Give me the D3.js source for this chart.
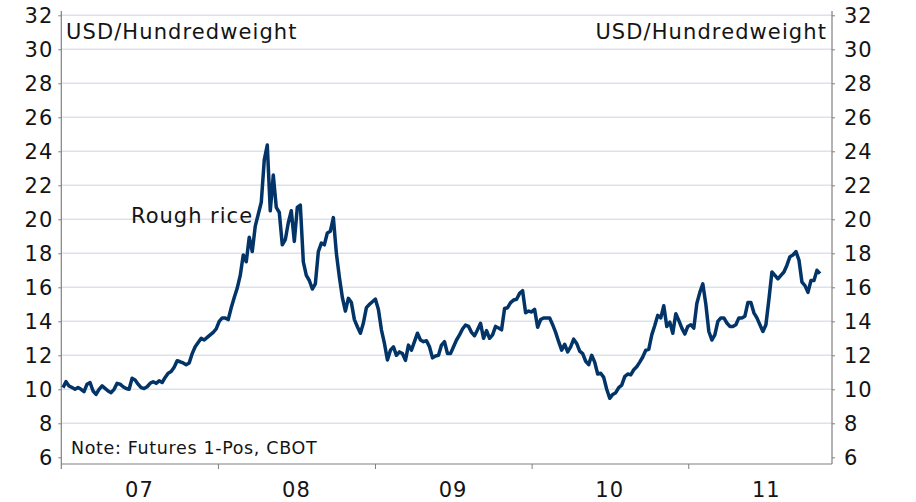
<!DOCTYPE html>
<html><head><meta charset="utf-8">
<script src="https://cdn.jsdelivr.net/npm/d3@7"></script>
<style>
body{margin:0;background:#fff}
svg text{font-family:"DejaVu Sans",Verdana,sans-serif;fill:#141414}
</style>
</head><body>
<svg id="chart" width="916" height="502"></svg>
<script>
// ---- data (weekly closes, Rough rice futures 1-Pos, CBOT) ----
const firstWeek = "2007-01-05";
const riceValues = [
10.1,10.45,10.2,10.1,10.0,10.1,10.0,9.86,10.3,10.4,
9.9,9.7,10.0,10.2,10.05,9.9,9.8,10.0,10.35,10.3,
10.15,10.05,10.0,10.65,10.55,10.3,10.1,10.05,10.15,10.35,
10.45,10.35,10.5,10.4,10.7,10.95,11.05,11.3,11.68,11.62,
11.55,11.45,11.55,12.1,12.5,12.75,13.0,12.9,13.05,13.2,
13.35,13.55,14.0,14.2,14.2,14.1,14.8,15.4,15.95,16.7,
17.9,17.5,18.95,18.1,19.6,20.3,21.0,23.5,24.37,20.5,
22.6,20.7,20.4,18.5,18.8,19.8,20.5,18.7,20.7,20.84,
17.5,16.7,16.4,15.9,16.2,18.1,18.6,18.5,19.2,19.3,
20.1,18.0,16.6,15.4,14.6,15.35,15.1,14.1,13.68,13.3,
13.9,14.8,15.0,15.15,15.3,14.7,13.5,12.7,11.72,12.3,
12.5,12.0,12.2,12.1,11.7,12.6,12.3,12.8,13.3,12.9,
12.8,12.86,12.5,11.85,11.96,12.0,12.6,12.8,12.1,12.1,
12.5,12.9,13.2,13.55,13.78,13.7,13.35,13.15,13.5,13.88,
13.0,13.45,13.0,13.2,13.7,13.6,13.5,14.75,14.8,15.1,
15.25,15.3,15.64,15.8,14.5,14.6,14.55,14.7,13.65,14.1,
14.2,14.2,14.2,13.8,13.35,12.8,12.3,12.65,12.2,12.5,
12.95,12.7,12.25,12.1,11.65,11.45,12.0,11.6,10.9,10.94,
10.7,10.0,9.47,9.7,9.8,10.1,10.25,10.75,10.9,10.85,
11.15,11.33,11.6,11.9,12.3,12.35,13.2,13.75,14.35,14.2,
14.92,13.7,13.95,13.3,14.45,14.05,13.6,13.25,13.7,13.8,
13.6,15.05,15.7,16.2,15.0,13.4,12.9,13.2,14.0,14.2,
14.2,13.9,13.7,13.7,13.8,14.2,14.2,14.3,15.1,15.1,
14.5,14.2,13.8,13.4,13.8,15.3,16.9,16.7,16.5,16.7,
16.9,17.3,17.8,17.9,18.1,17.6,16.3,16.1,15.7,16.4,
16.4,17.0,16.8
];
const yTickValues = [6,8,10,12,14,16,18,20,22,24,26,28,30,32];
const yearList = [2007,2008,2009,2010,2011];
const yearLabels = ["07","08","09","10","11"];
const xStart = "2007-01-01", xEnd = "2011-12-02";
const unitLabel = "USD/Hundredweight";
const seriesLabel = "Rough rice";
const noteLabel = "Note: Futures 1-Pos, CBOT";

// ---- layout ----
const L = 61.3, R = 832, T = 11, B = 464;
const svg = d3.select("#chart");
const parse = d3.utcParse("%Y-%m-%d");
const t0 = parse(firstWeek);
const data = riceValues.map((v,i)=>({date:d3.utcDay.offset(t0,7*i), value:v}));

const x = d3.scaleUtc().domain([parse(xStart), parse(xEnd)]).range([L, R]);
const y = d3.scaleLinear().domain([6,32]).range([457.3, 15.3]);

// gridlines
svg.append("g").selectAll("line").data(yTickValues.filter(v=>v>6)).join("line")
  .attr("x1",L).attr("x2",R).attr("y1",d=>y(d)).attr("y2",d=>y(d))
  .attr("stroke","#dbe2e9").attr("stroke-width",1.5);

// left axis
const gl = svg.append("g").attr("transform",`translate(${L},0)`)
  .call(d3.axisLeft(y).tickValues(yTickValues).tickSize(3).tickPadding(5));
// right axis
const gr = svg.append("g").attr("transform",`translate(${R},0)`)
  .call(d3.axisRight(y).tickValues(yTickValues).tickSize(3).tickPadding(9));
[gl,gr].forEach(g=>{
  g.select(".domain").remove();
  g.selectAll(".tick line").attr("stroke","#808080");
  g.selectAll(".tick text").attr("font-size",21).attr("letter-spacing","1px")
    .style("font-family",'"DejaVu Sans",Verdana,sans-serif').attr("fill","#141414").attr("dy","0.36em");
});
// bottom axis
const yearStarts = yearList.map(yr=>new Date(Date.UTC(yr,0,1)));
const gb = svg.append("g").attr("transform",`translate(0,${B})`)
  .call(d3.axisBottom(x).tickValues(yearStarts.slice(1)).tickSize(5).tickFormat(""));
gb.select(".domain").remove();
gb.selectAll(".tick line").attr("stroke","#808080");

// frame lines
const frame = svg.append("g").attr("stroke","#808080").attr("stroke-width",1.2).attr("fill","none");
frame.append("line").attr("x1",L).attr("x2",L).attr("y1",T).attr("y2",B+5);
frame.append("line").attr("x1",R).attr("x2",R).attr("y1",T).attr("y2",B);
frame.append("line").attr("x1",L).attr("x2",R).attr("y1",B).attr("y2",B);

// year labels
svg.append("g").selectAll("text").data(yearList).join("text")
  .attr("x",(d)=>x(new Date(Date.UTC(d,6,2))))
  .attr("y",497).attr("text-anchor","middle").attr("font-size",21).attr("letter-spacing","1px")
  .text((d,i)=>yearLabels[i]);

// line
svg.append("path").datum(data)
  .attr("fill","none").attr("stroke","#033468").attr("stroke-width",3.5)
  .attr("stroke-linejoin","round")
  .attr("d", d3.line().x(d=>x(d.date)).y(d=>y(d.value)));

// texts
svg.append("text").attr("x",66).attr("y",38.6).attr("font-size",21).attr("letter-spacing","1.1px").text(unitLabel);
svg.append("text").attr("x",827).attr("y",38.6).attr("text-anchor","end").attr("font-size",21).attr("letter-spacing","1.1px").text(unitLabel);
svg.append("text").attr("x",131).attr("y",223.3).attr("font-size",21).attr("letter-spacing","1px").text(seriesLabel);
svg.append("text").attr("x",71).attr("y",454.3).attr("font-size",17.5).attr("letter-spacing","0.65px").text(noteLabel);
</script>
</body></html>
